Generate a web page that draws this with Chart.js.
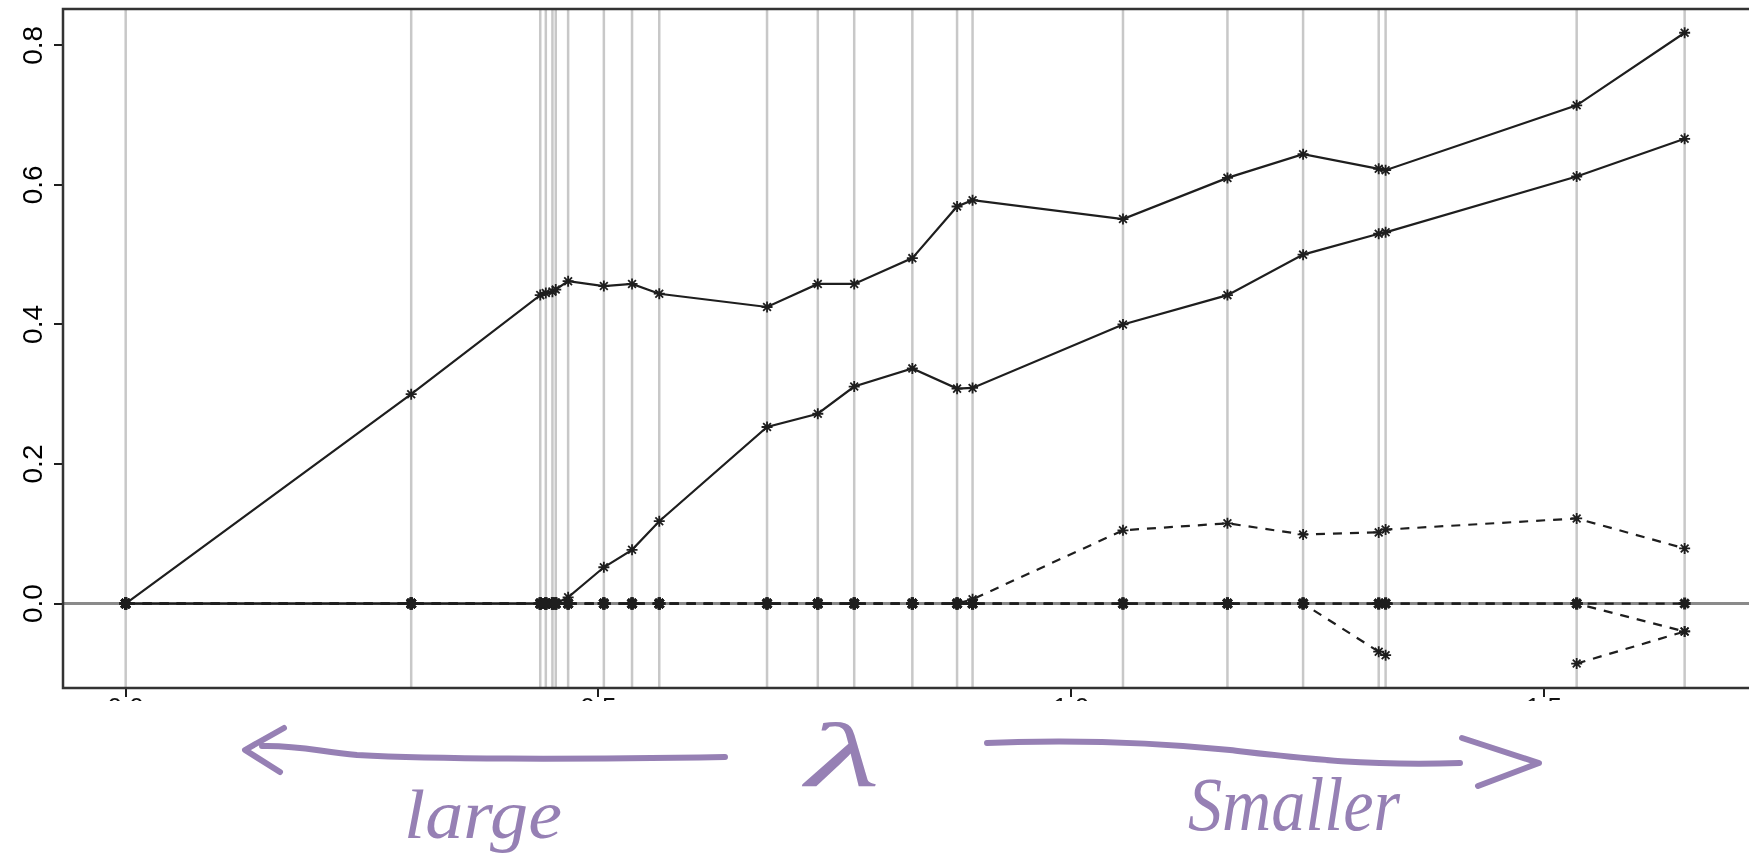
<!DOCTYPE html>
<html>
<head>
<meta charset="utf-8">
<title>lasso path</title>
<script src="https://cdn.jsdelivr.net/npm/chart.js@4.4.1/dist/chart.umd.min.js"></script>
<style>
body { margin: 0; background: #fff; }
#page { position: relative; width: 1749px; height: 855px; overflow: hidden; background: #fff; }
#plot { position: absolute; left: 0; top: 0; width: 1749px; height: 701px; overflow: hidden; }
#plot canvas { display: block; }
#notes { position: absolute; left: 0; top: 0; }
</style>
</head>
<body>
<div id="page">
  <div id="plot"><canvas id="chart" width="1800" height="760"></canvas></div>
  <svg id="notes" width="1749" height="855">
    <g fill="none" stroke="#9680b4" stroke-width="6" stroke-linecap="round" stroke-linejoin="round">
      <path d="M 725 757 C 600 759, 450 760, 357 755 C 320 752, 300 745, 262 746"/>
      <path d="M 284 728 L 245 750 L 280 772"/>
      <path d="M 987 743 C 1060 740, 1150 742, 1230 750 C 1300 758, 1360 766, 1460 763"/>
      <path d="M 1462 738 L 1539 763 L 1478 786"/>
    </g>
    <g fill="#9680b4" font-family="Liberation Sans Narrow" font-style="italic">
      <text x="806" y="786" font-size="92" textLength="74" lengthAdjust="spacingAndGlyphs" font-family="Liberation Serif">λ</text>
      <text x="404" y="838" font-size="70" textLength="158" lengthAdjust="spacingAndGlyphs">large</text>
      <text x="1188" y="830" font-size="76" textLength="212" lengthAdjust="spacingAndGlyphs">Smaller</text>
    </g>
  </svg>
</div>
<script>
// положения узлов пути (ось x) и значения коэффициентов в каждом узле
var knotX = [0, 0.302, 0.4385, 0.4444, 0.4514, 0.4549, 0.468, 0.5058, 0.5356, 0.5644, 0.6784, 0.7321,
  0.7706, 0.8321, 0.8794, 0.8958, 1.0549, 1.1654, 1.2454, 1.3254, 1.3327, 1.5348, 1.649];
var coefA = [0, 0.300, 0.442, 0.445, 0.447, 0.450, 0.462, 0.455, 0.458, 0.444, 0.425, 0.458,
  0.458, 0.495, 0.569, 0.578, 0.551, 0.610, 0.644, 0.623, 0.621, 0.714, 0.818];
var coefB = [0, 0, 0, 0, 0, 0, 0.009, 0.052, 0.077, 0.118, 0.253, 0.272,
  0.311, 0.337, 0.308, 0.309, 0.400, 0.442, 0.500, 0.530, 0.532, 0.612, 0.666];
var coefC = [0, 0, 0, 0, 0, 0, 0, 0, 0, 0, 0, 0,
  0, 0, 0, 0.006, 0.105, 0.115, 0.099, 0.102, 0.106, 0.122, 0.079];
var coefD = [0, 0, 0, 0, 0, 0, 0, 0, 0, 0, 0, 0,
  0, 0, 0, 0, 0, 0, 0, -0.069, -0.074, null, null];
var coefE = [null, null, null, null, null, null, null, null, null, null, null, null,
  null, null, null, null, null, null, null, null, null, -0.086, -0.040];
var coefF = [0, 0, 0, 0, 0, 0, 0, 0, 0, 0, 0, 0,
  0, 0, 0, 0, 0, 0, 0, 0, 0, 0, -0.040];
var coefG = [0, 0, 0, 0, 0, 0, 0, 0, 0, 0, 0, 0,
  0, 0, 0, 0, 0, 0, 0, 0, 0, 0, 0];

var xTickValues = [0, 0.5, 1.0, 1.5];
var xTickLabels = ["0.0", "0.5", "1.0", "1.5"];
var yTickValues = [0, 0.2, 0.4, 0.6, 0.8];
var yTickLabels = ["0.0", "0.2", "0.4", "0.6", "0.8"];

var ink = "#1e1e1e";

var toPoints = function (values) {
  return values.map(function (v, i) { return { x: knotX[i], y: v }; });
};

var series = function (values, dashed) {
  return {
    data: toPoints(values),
    borderColor: ink,
    borderWidth: 2.2,
    borderDash: dashed ? [9, 8] : [],
    tension: 0,
    spanGaps: false,
    pointStyle: "star",
    pointRadius: function (c) { return c.raw && c.raw.y === 0 ? 6 : 5.5; },
    pointBorderWidth: function (c) { return c.raw && c.raw.y === 0 ? 3 : 1.8; },
    pointBorderColor: ink,
    pointBackgroundColor: "rgba(0,0,0,0)"
  };
};

// серые вертикальные линии в узлах, линия нуля и рамка
var knotLines = {
  id: "knotLines",
  beforeDatasetsDraw: function (chart) {
    var ctx = chart.ctx;
    var area = chart.chartArea;
    var x = chart.scales.x;
    var y = chart.scales.y;
    ctx.save();
    ctx.strokeStyle = "#c8c8c8";
    ctx.lineWidth = 2.5;
    knotX.forEach(function (k) {
      var px = x.getPixelForValue(k);
      ctx.beginPath();
      ctx.moveTo(px, area.top);
      ctx.lineTo(px, area.bottom);
      ctx.stroke();
    });
    var py = y.getPixelForValue(0);
    ctx.strokeStyle = "#8a8a8a";
    ctx.lineWidth = 3;
    ctx.beginPath();
    ctx.moveTo(area.left, py);
    ctx.lineTo(area.right, py);
    ctx.stroke();
    ctx.restore();
  },
  afterDraw: function (chart) {
    var ctx = chart.ctx;
    var area = chart.chartArea;
    ctx.save();
    ctx.strokeStyle = "#333333";
    ctx.lineWidth = 2.5;
    ctx.strokeRect(area.left, area.top, area.right - area.left, area.bottom - area.top);
    ctx.restore();
  }
};

var chart = new Chart(document.getElementById("chart").getContext("2d"), {
  type: "line",
  data: {
    datasets: [
      series(coefG, true),
      series(coefF, true),
      series(coefE, true),
      series(coefD, true),
      series(coefC, true),
      series(coefB, false),
      series(coefA, false)
    ]
  },
  options: {
    responsive: false,
    animation: false,
    devicePixelRatio: 1,
    layout: { padding: { top: 7, left: 0, right: 0, bottom: 0 } },
    plugins: { legend: { display: false }, tooltip: { enabled: false } },
    scales: {
      x: {
        type: "linear",
        min: -0.0663,
        max: 1.7615,
        afterBuildTicks: function (scale) {
          scale.ticks = xTickValues.map(function (v) { return { value: v }; });
        },
        afterFit: function (scale) {
          scale.height = 72;
          scale.paddingLeft = 0;
          scale.paddingRight = 0;
        },
        border: { display: false },
        grid: { drawOnChartArea: false, drawTicks: true, tickLength: 9, color: ink, lineWidth: 2 },
        ticks: {
          autoSkip: false,
          padding: -4,
          color: "#111111",
          font: { family: "Liberation Sans", size: 26 },
          callback: function (value, index) { return xTickLabels[index]; }
        }
      },
      y: {
        type: "linear",
        min: -0.121,
        max: 0.852,
        afterBuildTicks: function (scale) {
          scale.ticks = yTickValues.map(function (v) { return { value: v }; });
        },
        afterFit: function (scale) {
          scale.width = 63;
          scale.paddingTop = 0;
          scale.paddingBottom = 0;
        },
        border: { display: false },
        grid: { drawOnChartArea: false, drawTicks: true, tickLength: 9, color: ink, lineWidth: 2 },
        ticks: {
          autoSkip: false,
          minRotation: 90,
          maxRotation: 90,
          crossAlign: "center",
          padding: 0,
          color: "#000000",
          font: { family: "Liberation Sans", size: 28 },
          callback: function (value, index) { return yTickLabels[index]; }
        }
      }
    }
  },
  plugins: [knotLines]
});
</script>
</body>
</html>
